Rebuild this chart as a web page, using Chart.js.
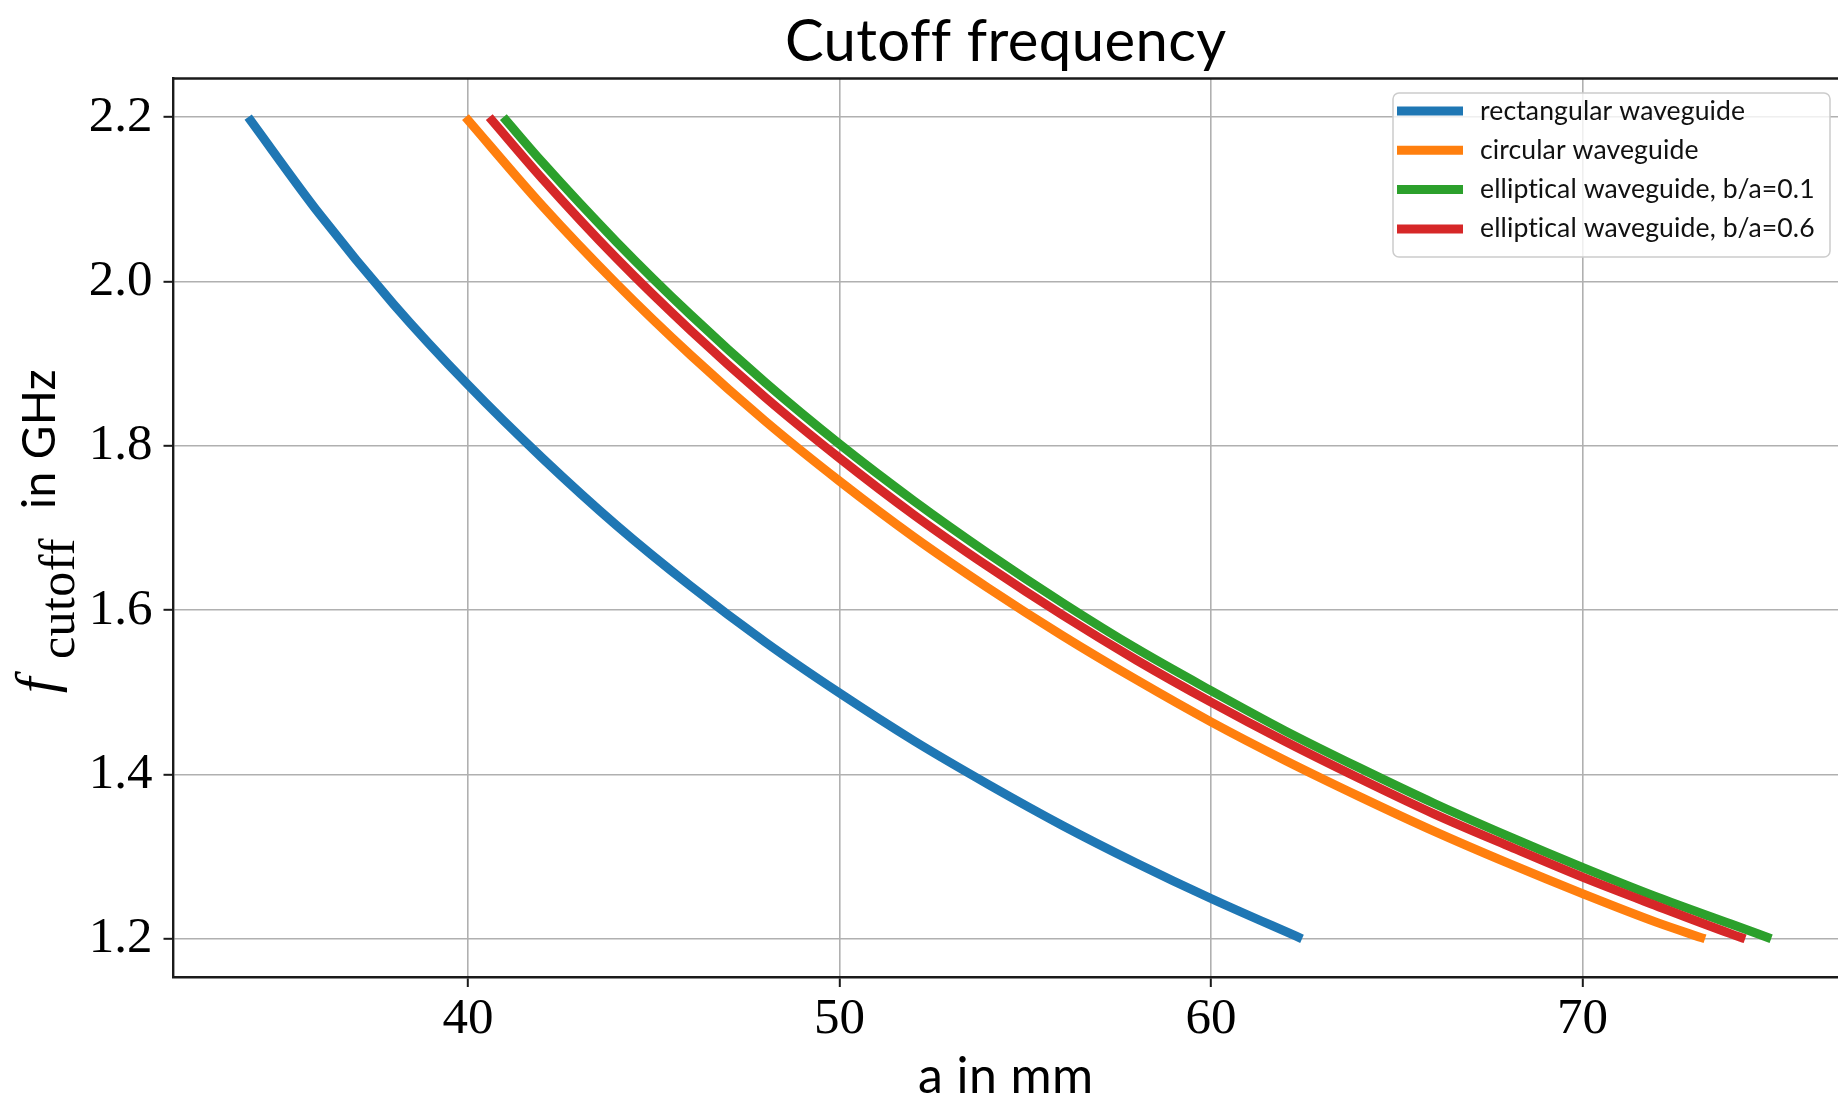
<!DOCTYPE html>
<html lang="en">
<head>
    <meta charset="utf-8" />
    <title>Cutoff frequency</title>
    <script src="https://cdn.jsdelivr.net/npm/chart.js@4.4.0/dist/chart.umd.min.js"></script>
    <style>
        html, body { margin: 0; padding: 0; background: #fff; }
        #wrap { width: 1838px; height: 1099px; position: relative; }
    </style>
</head>
<body>
    <div id="wrap"><canvas id="chart"></canvas></div>
    <script>
        // Values (a in mm, f in GHz)
        const rectA = [34.08, 36, 38, 40, 42, 44, 46, 48, 50, 52, 54, 56, 58, 60, 62.45];
        const rectF = [2.20, 2.082, 1.972, 1.874, 1.785, 1.703, 1.629, 1.561, 1.499, 1.441, 1.388, 1.338, 1.292, 1.249, 1.20];

        const circA = [39.93, 42, 44, 46, 48, 50, 52, 54, 56, 58, 60, 62, 64, 66, 68, 70, 72, 73.3];
        const circF = [2.20, 2.092, 1.997, 1.910, 1.830, 1.757, 1.689, 1.627, 1.569, 1.515, 1.464, 1.417, 1.373, 1.331, 1.292, 1.255, 1.220, 1.20];

        const ell01A = [40.95, 42, 44, 46, 48, 50, 52, 54, 56, 58, 60, 62, 64, 66, 68, 70, 72, 74, 75.08];
        const ell01F = [2.20, 2.145, 2.048, 1.959, 1.877, 1.802, 1.733, 1.669, 1.609, 1.553, 1.502, 1.453, 1.408, 1.365, 1.325, 1.287, 1.251, 1.218, 1.20];

        const ell06A = [40.57, 42, 44, 46, 48, 50, 52, 54, 56, 58, 60, 62, 64, 66, 68, 70, 72, 74, 74.38];
        const ell06F = [2.20, 2.125, 2.028, 1.940, 1.859, 1.785, 1.716, 1.653, 1.594, 1.539, 1.488, 1.440, 1.395, 1.352, 1.313, 1.275, 1.240, 1.206, 1.20];

        const seriesNames = ['rectangular waveguide', 'circular waveguide', 'elliptical waveguide, b/a=0.1', 'elliptical waveguide, b/a=0.6'];
        const seriesColors = ['#1f77b4', '#ff7f0e', '#2ca02c', '#d62728'];

        const xTicks = [40, 50, 60, 70];
        const yTicks = [1.2, 1.4, 1.6, 1.8, 2.0, 2.2];

        function toPoints(xs, ys) {
            return xs.map((x, i) => ({ x: x, y: ys[i] }));
        }

        const allSeries = [[rectA, rectF], [circA, circF], [ell01A, ell01F], [ell06A, ell06F]];

        const datasets = allSeries.map((s, i) => ({
            label: seriesNames[i],
            data: toPoints(s[0], s[1]),
            borderColor: seriesColors[i],
            backgroundColor: seriesColors[i],
            borderWidth: 9,
            pointRadius: 0,
            fill: false,
            cubicInterpolationMode: 'monotone',
            order: 4 - i
        }));

        // titles, top spine and legend drawn by hand (matplotlib look)
        const decorations = {
            id: 'decorations',
            afterDraw(chart) {
                const ctx = chart.ctx;
                const area = chart.chartArea;
                ctx.save();
                // small spacing keeps Lato from building ff / ti ligatures
                ctx.letterSpacing = '0.4px';

                // top spine
                ctx.strokeStyle = '#1a1a1a';
                ctx.lineWidth = 2.4;
                ctx.beginPath();
                ctx.moveTo(area.left - 1.2, area.top);
                ctx.lineTo(area.right, area.top);
                ctx.stroke();

                // title
                ctx.fillStyle = '#000';
                ctx.textAlign = 'center';
                ctx.textBaseline = 'alphabetic';
                ctx.font = '58px Lato';
                ctx.fillText('Cutoff frequency', (area.left + area.right) / 2, 61);

                // x label
                ctx.font = '50px Lato';
                ctx.fillText('a in mm', (area.left + area.right) / 2, 1093);

                // y label: f_cutoff in GHz
                ctx.save();
                ctx.translate(55, 697);
                ctx.rotate(-Math.PI / 2);
                ctx.textAlign = 'left';
                ctx.font = 'italic 56px "Liberation Serif"';
                ctx.fillText('f', 4, 0);
                ctx.font = '50px "Liberation Serif"';
                ctx.fillText('cutoff', 38, 19);
                ctx.font = '46px Lato';
                ctx.fillText('in GHz', 188, 0);
                ctx.restore();

                // legend
                const lx = 1393, ly = 93, lw = 437, lh = 164;
                ctx.fillStyle = 'rgba(255,255,255,0.8)';
                ctx.strokeStyle = '#cccccc';
                ctx.lineWidth = 1.5;
                ctx.beginPath();
                ctx.roundRect(lx, ly, lw, lh, 6);
                ctx.fill();
                ctx.stroke();

                ctx.font = '26.6px Lato';
                ctx.letterSpacing = '0.1px';
                ctx.textAlign = 'left';
                ctx.textBaseline = 'middle';
                seriesNames.forEach((name, i) => {
                    const ry = 111 + i * 39.3;
                    ctx.strokeStyle = seriesColors[i];
                    ctx.lineWidth = 9;
                    ctx.beginPath();
                    ctx.moveTo(1397, ry);
                    ctx.lineTo(1463, ry);
                    ctx.stroke();
                    ctx.fillStyle = '#111';
                    ctx.fillText(name, 1480, ry);
                });

                ctx.restore();
            }
        };

        const ctx = document.getElementById('chart').getContext('2d');
        new Chart(ctx, {
            type: 'line',
            data: { datasets: datasets },
            options: {
                responsive: true,
                maintainAspectRatio: false,
                animation: false,
                devicePixelRatio: 1,
                layout: { padding: { top: 78.5, left: 0, right: 0, bottom: 0 } },
                plugins: {
                    legend: { display: false },
                    tooltip: { enabled: false },
                    title: { display: false }
                },
                scales: {
                    x: {
                        type: 'linear',
                        min: 32.07,
                        max: 76.88,
                        afterBuildTicks: axis => { axis.ticks = xTicks.map(v => ({ value: v })); },
                        afterFit: axis => { axis.height = 122; },
                        grid: {
                            color: '#b0b0b0',
                            lineWidth: 1.6,
                            tickColor: '#1a1a1a',
                            tickWidth: 2,
                            tickLength: 10
                        },
                        border: { color: '#1a1a1a', width: 2.4 },
                        ticks: {
                            autoSkip: false,
                            maxRotation: 0,
                            padding: 2,
                            color: '#000',
                            font: { family: 'Liberation Serif', size: 51 },
                            callback: v => String(v)
                        }
                    },
                    y: {
                        type: 'linear',
                        min: 1.1535,
                        max: 2.247,
                        afterBuildTicks: axis => { axis.ticks = yTicks.map(v => ({ value: v })); },
                        afterFit: axis => { axis.width = 173.5; },
                        grid: {
                            color: '#b0b0b0',
                            lineWidth: 1.6,
                            tickColor: '#1a1a1a',
                            tickWidth: 2,
                            tickLength: 10
                        },
                        border: { color: '#1a1a1a', width: 2.4 },
                        ticks: {
                            autoSkip: false,
                            padding: 11,
                            color: '#000',
                            font: { family: 'Liberation Serif', size: 51 },
                            callback: v => Number(v).toFixed(1)
                        }
                    }
                }
            },
            plugins: [decorations]
        });
    </script>
</body>
</html>
